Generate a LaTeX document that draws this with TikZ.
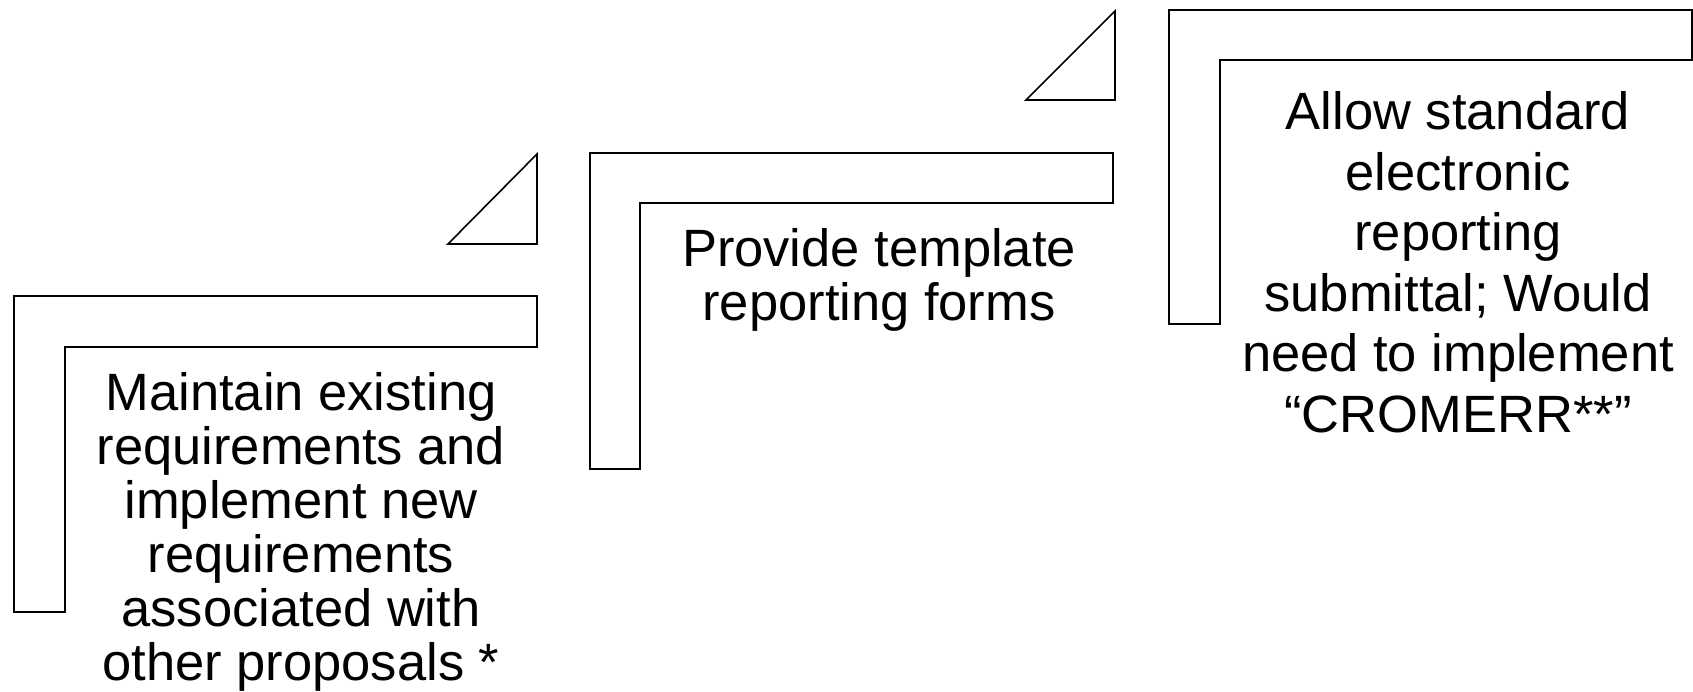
\documentclass[tikz,border=0pt]{standalone}
\usepackage{fontspec}
\setmainfont{Liberation Sans}
\begin{document}
\begin{tikzpicture}[x=1pt,y=-1pt,
  lshape/.style={draw=black, line width=1.6pt, fill=white, line join=miter},
  lbl/.style={align=center, font=\fontsize{52.5}{54}\selectfont, inner sep=0pt},
  lblwide/.style={align=center, font=\fontsize{52.5}{60.5}\selectfont, inner sep=0pt}]
\useasboundingbox (0,0) rectangle (1693,691);
% triangles
\draw[lshape] (537,154) -- (448,244) -- (537,244) -- cycle;
\draw[lshape] (1115,11) -- (1026,100) -- (1115,100) -- cycle;
% L shapes
\draw[lshape] (14,296) -- (537,296) -- (537,347) -- (65,347) -- (65,612) -- (14,612) -- cycle;
\draw[lshape] (590,153) -- (1113,153) -- (1113,203) -- (640,203) -- (640,469) -- (590,469) -- cycle;
\draw[lshape] (1169,10) -- (1692,10) -- (1692,60) -- (1220,60) -- (1220,324) -- (1169,324) -- cycle;
% texts
\node[lbl] (t1) at (301,532) {Maintain existing\\requirements and\\implement new\\requirements\\associated with\\other proposals *};
\node[lbl] (t2) at (879,280) {Provide template\\reporting forms};
\node[lblwide] (t3) at (1458,262) {Allow standard\\electronic\\reporting\\submittal; Would\\need to implement\\“CROMERR**”};
\end{tikzpicture}
\end{document}
